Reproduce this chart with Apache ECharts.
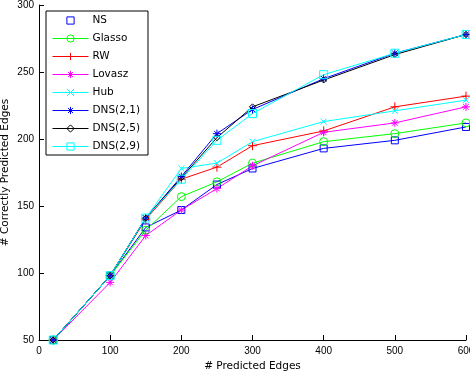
<!DOCTYPE html>
<html>
<head>
<meta charset="utf-8">
<script src="https://cdn.jsdelivr.net/npm/echarts@6/dist/echarts.min.js"></script>
<style>
  html, body { margin: 0; padding: 0; background: #fff; }
  #chart { width: 470px; height: 372px; }
</style>
</head>
<body>
<div id="chart"></div>
<script>
// predicted edges (x) and correctly predicted edges per method
const edges = [20, 100, 150, 200, 250, 300, 400, 500, 600];
const ns      = [50, 98, 134, 147, 166, 178, 193, 199, 209];
const glasso  = [50, 98, 132, 157, 168, 182, 198, 204, 212];
const rw      = [50, 98, 140, 170, 179, 195, 206, 224, 232];
const lovasz  = [50, 93, 128, 147, 163, 180, 205, 212, 224];
const hub     = [50, 98, 141, 178, 182, 198, 213, 221, 229];
const dns21   = [50, 98, 141, 172, 204, 222, 245, 264, 278];
const dns25   = [50, 98, 141, 171, 201, 224, 244, 263, 278];
const dns29   = [50, 98, 141, 170, 199, 219, 248, 264, 278];

const plus = 'path://M0,5L10,5M5,0L5,10';
const cross = 'path://M0,0L10,10M0,10L10,0';
const star = 'path://M0,5L10,5M5,0L5,10M1.5,1.5L8.5,8.5M1.5,8.5L8.5,1.5';
const diamond = 'path://M5,0L10,5L5,10L0,5Z';

const methods = [
  { name: 'NS', data: ns, color: '#0000ff', symbol: 'rect', size: 7 },
  { name: 'Glasso', data: glasso, color: '#00ff00', symbol: 'circle', size: 8 },
  { name: 'RW', data: rw, color: '#ff0000', symbol: plus, size: 9 },
  { name: 'Lovasz', data: lovasz, color: '#ff00ff', symbol: star, size: 8 },
  { name: 'Hub', data: hub, color: '#00ffff', symbol: cross, size: 6 },
  { name: 'DNS(2,1)', data: dns21, color: '#0000ff', symbol: star, size: 8 },
  { name: 'DNS(2,5)', data: dns25, color: '#000000', symbol: diamond, size: 6 },
  { name: 'DNS(2,9)', data: dns29, color: '#00ffff', symbol: 'rect', size: 8 }
];

const font = 'DejaVu Sans';
const hollow = 'rgba(255,255,255,0)';
const chart = echarts.init(document.getElementById('chart'));

const option = {
  animation: false,
  backgroundColor: '#fff',
  grid: { left: 39, right: 4, top: 5, bottom: 32, containLabel: false, outerBoundsMode: 'none' },
  legend: {
    orient: 'vertical',
    left: 46,
    top: 11,
    padding: [4, 8, 3, 6],
    itemWidth: 36,
    itemHeight: 9,
    itemGap: 7,
    borderColor: '#000',
    borderWidth: 1,
    borderRadius: 0,
    backgroundColor: '#fff',
    textStyle: { fontFamily: font, fontSize: 10.5, color: '#000', padding: [0, 0, 0, -1] },
    data: methods.map(m => ({
      name: m.name,
      itemStyle: { color: hollow, borderColor: m.color, borderWidth: 1 },
      lineStyle: m.name === 'NS' ? { width: 0, opacity: 0 } : { color: m.color, width: 1 }
    }))
  },
  xAxis: {
    type: 'value',
    min: 0,
    max: 600,
    interval: 100,
    name: '# Predicted Edges',
    nameLocation: 'middle',
    nameGap: 21,
    nameMoveOverlap: false,
    nameTextStyle: { fontFamily: font, fontSize: 10.5, color: '#000' },
    axisLine: { lineStyle: { color: '#000', width: 1 } },
    axisTick: { inside: true, length: 5, lineStyle: { color: '#000' } },
    axisLabel: { fontFamily: 'Liberation Sans', fontSize: 10, color: '#000', margin: 6 },
    splitLine: { show: false }
  },
  yAxis: {
    type: 'value',
    min: 50,
    max: 300,
    interval: 50,
    name: '# Correctly Predicted Edges',
    nameLocation: 'middle',
    nameGap: 28,
    nameMoveOverlap: false,
    nameTextStyle: { fontFamily: font, fontSize: 10.5, color: '#000' },
    axisLine: { show: true, lineStyle: { color: '#000', width: 1 } },
    axisTick: { show: true, inside: true, length: 5, lineStyle: { color: '#000' } },
    axisLabel: { fontFamily: 'Liberation Sans', fontSize: 10, color: '#000', margin: 5 },
    splitLine: { show: false }
  },
  series: methods.map(m => ({
    name: m.name,
    type: 'line',
    data: edges.map((x, i) => [x, m.data[i]]),
    symbol: m.symbol,
    symbolSize: m.size,
    showAllSymbol: true,
    lineStyle: { color: m.color, width: 1 },
    itemStyle: { color: hollow, borderColor: m.color, borderWidth: 1 },
    emphasis: { disabled: true }
  }))
};

chart.setOption(option);
</script>
</body>
</html>
